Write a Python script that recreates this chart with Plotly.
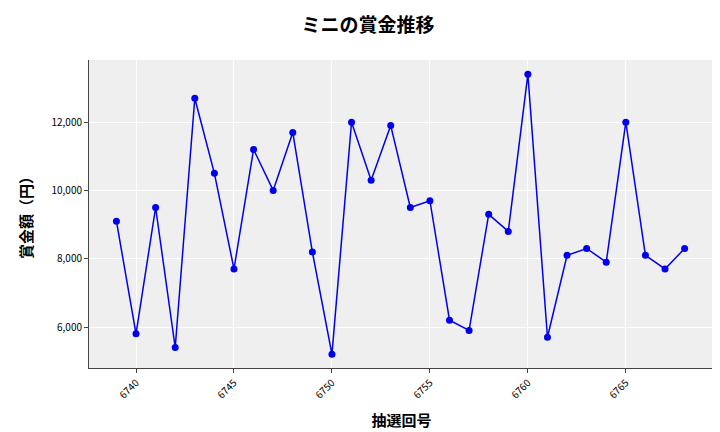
import plotly.graph_objects as go

draws = list(range(6739, 6769))
prize = [9100, 5800, 9500, 5400, 12700, 10500, 7700, 11200, 10000, 11700,
         8200, 5200, 12000, 10300, 11900, 9500, 9700, 6200, 5900, 9300,
         8800, 13400, 5700, 8100, 8300, 7900, 12000, 8100, 7700, 8300]
x_ticks = [6740, 6745, 6750, 6755, 6760, 6765]
y_ticks = [6000, 8000, 10000, 12000]

font = "Noto Sans CJK JP"

fig = go.Figure(go.Scatter(
    x=draws, y=prize, mode="lines+markers",
    line=dict(color="#0000ee", width=1.5),
    marker=dict(color="#0000ee", size=7),
))

fig.update_layout(
    width=720, height=432,
    paper_bgcolor="white", plot_bgcolor="#efefef",
    margin=dict(l=81, r=14, t=52, b=72, autoexpand=False),
    font=dict(family=font, color="black"),
    title=dict(text="<b>ミニの賞金推移</b>", x=0.5, xanchor="center",
               y=0.96, yanchor="middle", font=dict(size=19)),
    showlegend=False,
)
fig.update_xaxes(
    range=[6737.6, 6769.5], tickvals=x_ticks, tickangle=-45,
    tickfont=dict(size=10), gridcolor="white", showline=True,
    linecolor="#444", ticks="outside", ticklen=4, zeroline=False,
    title=dict(text="<b>抽選回号</b>", font=dict(size=15)),
    automargin=False,
)
fig.update_yaxes(
    range=[4800, 13820], tickvals=y_ticks, tickformat=",",
    tickfont=dict(size=10), gridcolor="white", showline=True,
    linecolor="#444", ticks="outside", ticklen=4, zeroline=False,
    title=dict(text="<b>賞金額（円）</b>", font=dict(size=15)),
    automargin=False,
)

fig.write_html("out.html")
